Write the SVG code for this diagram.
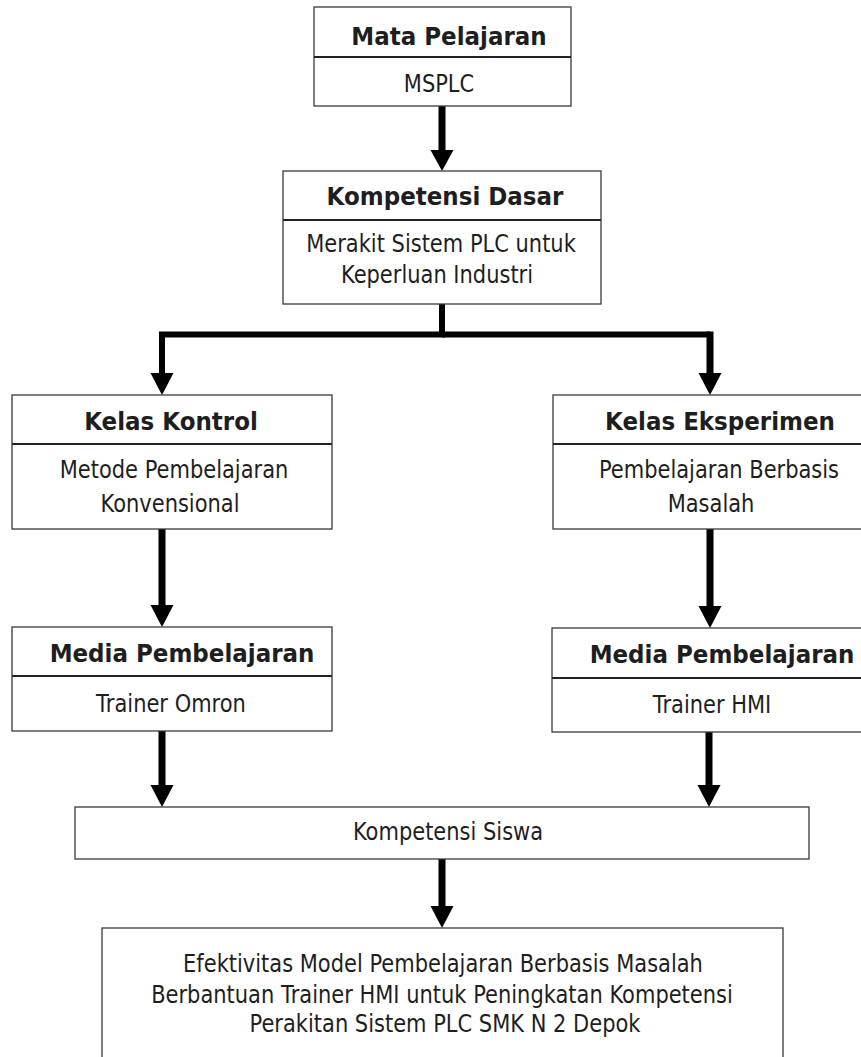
<svg xmlns="http://www.w3.org/2000/svg" width="861" height="1057" viewBox="0 0 861 1057">
<defs>
<style>
.box{fill:#fff;stroke:#3a3a3a;stroke-width:1.3}
.div{stroke:#222;stroke-width:2.2}
.h{font-family:"DejaVu Sans",Verdana,sans-serif;font-weight:bold;font-size:23px;fill:#1e1e1e;text-anchor:middle}
.t{font-family:"DejaVu Sans",Verdana,sans-serif;font-size:21px;fill:#1e1e1e;text-anchor:middle}
.shaft{stroke:#000;stroke-width:7;fill:none}
.line{stroke:#000;stroke-width:6;fill:none}
.head{fill:#000}
</style>
</defs>
<rect width="861" height="1057" fill="#fff"/>

<g id="connectors">
<line class="shaft" x1="442" y1="106" x2="442" y2="152"/>
<polygon class="head" points="430.5,150 453.5,150 442,171"/>
<polyline class="line" points="442,304 442,334.5 162,334.5 162,375"/>
<line class="line" x1="442" y1="334.5" x2="710" y2="334.5"/>
<line class="shaft" x1="710" y1="331.5" x2="710" y2="375"/>
<polygon class="head" points="150.5,373 173.5,373 162,395"/>
<polygon class="head" points="698.5,373 721.5,373 710,395"/>
<line class="shaft" x1="162" y1="529" x2="162" y2="608"/>
<polygon class="head" points="150.5,605 173.5,605 162,627"/>
<line class="shaft" x1="710" y1="529" x2="710" y2="608"/>
<polygon class="head" points="698.5,606 721.5,606 710,628"/>
<line class="shaft" x1="162" y1="731" x2="162" y2="788"/>
<polygon class="head" points="150.5,785 173.5,785 162,807"/>
<line class="shaft" x1="709" y1="732" x2="709" y2="788"/>
<polygon class="head" points="697.5,785 720.5,785 709,807"/>
<line class="shaft" x1="442" y1="859" x2="442" y2="908"/>
<polygon class="head" points="430.5,906 453.5,906 442,928"/>
</g>

<g id="mata-pelajaran">
<rect class="box" x="314" y="7" width="257" height="99"/>
<line class="div" x1="314" y1="57" x2="571" y2="57"/>
<text class="h" transform="translate(449,45) scale(1,1.08)">Mata Pelajaran</text>
<text class="t" transform="translate(439,92) scale(1,1.15)">MSPLC</text>
</g>

<g id="kompetensi-dasar">
<rect class="box" x="283" y="171" width="318" height="133"/>
<line class="div" x1="283" y1="220" x2="601" y2="220"/>
<text class="h" transform="translate(445,205) scale(1,1.08)">Kompetensi Dasar</text>
<text class="t" transform="translate(441,252) scale(1,1.15)">Merakit Sistem PLC untuk</text>
<text class="t" transform="translate(437,283) scale(1,1.15)">Keperluan Industri</text>
</g>

<g id="kelas-kontrol">
<rect class="box" x="12" y="395" width="320" height="134"/>
<line class="div" x1="12" y1="444" x2="332" y2="444"/>
<text class="h" transform="translate(171,430) scale(1,1.08)">Kelas Kontrol</text>
<text class="t" transform="translate(174,478) scale(1,1.15)">Metode Pembelajaran</text>
<text class="t" transform="translate(170,512) scale(1,1.15)">Konvensional</text>
</g>

<g id="kelas-eksperimen">
<rect class="box" x="553" y="395" width="330" height="134"/>
<line class="div" x1="553" y1="444" x2="883" y2="444"/>
<text class="h" transform="translate(720,430) scale(1,1.08)">Kelas Eksperimen</text>
<text class="t" transform="translate(719,478) scale(1,1.15)">Pembelajaran Berbasis</text>
<text class="t" transform="translate(711,512) scale(1,1.15)">Masalah</text>
</g>

<g id="media-kiri">
<rect class="box" x="12" y="627" width="320" height="104"/>
<line class="div" x1="12" y1="676" x2="332" y2="676"/>
<text class="h" transform="translate(182,662) scale(1,1.08)">Media Pembelajaran</text>
<text class="t" transform="translate(171,712) scale(1,1.15)">Trainer Omron</text>
</g>

<g id="media-kanan">
<rect class="box" x="552" y="628" width="330" height="104"/>
<line class="div" x1="552" y1="678" x2="882" y2="678"/>
<text class="h" transform="translate(722,663) scale(1,1.08)">Media Pembelajaran</text>
<text class="t" transform="translate(712,713) scale(1,1.15)">Trainer HMI</text>
</g>

<g id="kompetensi-siswa">
<rect class="box" x="75" y="807" width="734" height="52"/>
<text class="t" transform="translate(448,840) scale(1,1.15)">Kompetensi Siswa</text>
</g>

<g id="efektivitas">
<rect class="box" x="102" y="928" width="681" height="140"/>
<text class="t" transform="translate(443,972) scale(1,1.15)">Efektivitas Model Pembelajaran Berbasis Masalah</text>
<text class="t" transform="translate(442,1003) scale(1,1.15)">Berbantuan Trainer HMI untuk Peningkatan Kompetensi</text>
<text class="t" transform="translate(445,1032) scale(1,1.15)">Perakitan Sistem PLC SMK N 2 Depok</text>
</g>
</svg>
